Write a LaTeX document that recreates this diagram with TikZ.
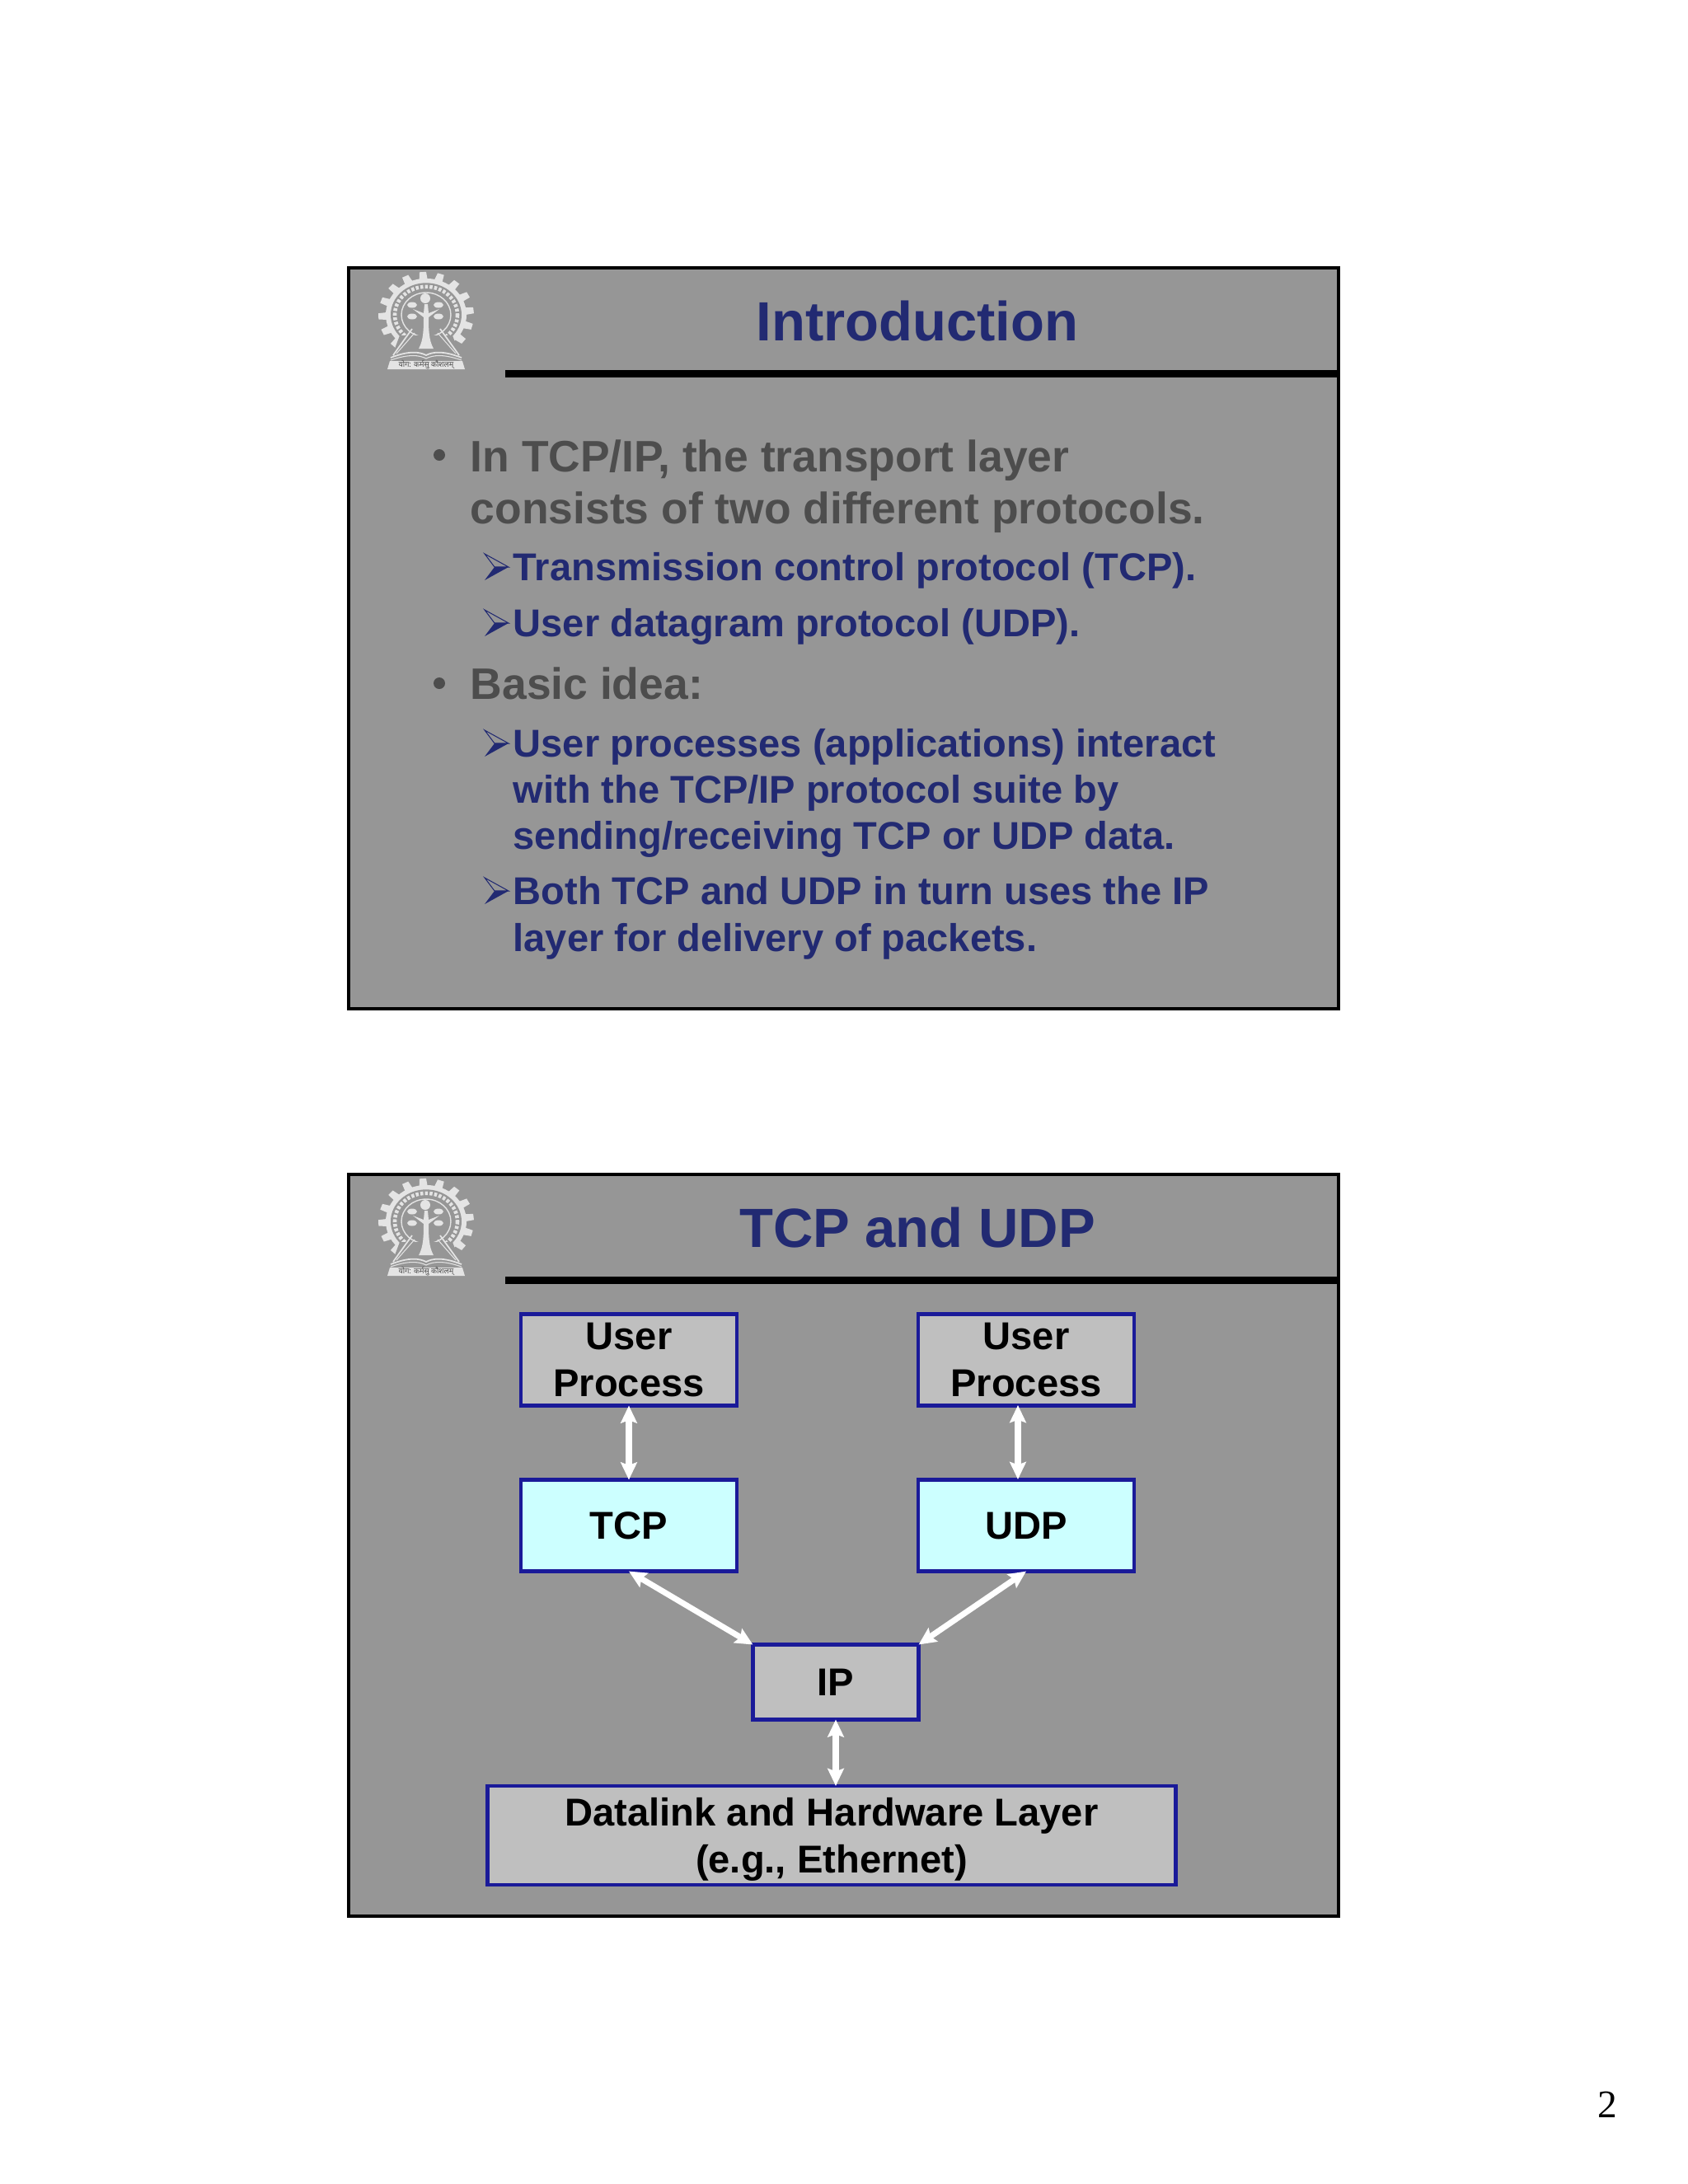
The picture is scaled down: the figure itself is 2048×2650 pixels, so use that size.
\documentclass[tikz,border=0pt]{standalone}
\usepackage{fontspec}
\setmainfont{Liberation Sans}
\newfontfamily\pagefont{Liberation Serif}
\newfontfamily\hindifont[Script=Devanagari]{Noto Sans}
\usetikzlibrary{arrows.meta}
\definecolor{slidegray}{HTML}{969696}
\definecolor{titleblue}{HTML}{222A72}
\definecolor{bodygray}{HTML}{4D4D4D}
\definecolor{boxblue}{HTML}{1A1A99}
\definecolor{boxgray}{HTML}{BFBFBF}
\definecolor{boxcyan}{HTML}{CCFFFF}
\definecolor{logowhite}{HTML}{E4E4E4}
\tikzset{
  slideframe/.style={draw=black,line width=0.9pt,fill=slidegray},
  titletext/.style={anchor=base,inner sep=0pt,text=titleblue,font=\fontsize{19.05}{22}\selectfont\bfseries},
  maintext/.style={anchor=base west,inner sep=0pt,text=bodygray,font=\fontsize{15.2}{18}\selectfont\bfseries},
  subtext/.style={anchor=base west,inner sep=0pt,text=titleblue,font=\fontsize{13.38}{16}\selectfont\bfseries},
  layerbox/.style={draw=boxblue,line width=1.3pt,fill=boxgray,outer sep=0pt,align=center,inner sep=0pt,
    font=\fontsize{13.4}{16}\selectfont\bfseries},
  transportbox/.style={layerbox,fill=boxcyan},
  linkarrow/.style={white,line width=2pt,{Stealth[length=6pt,width=5.6pt,inset=1pt]}-{Stealth[length=6pt,width=5.6pt,inset=1pt]},shorten <=0pt,shorten >=0pt},
  subarrow/.pic={
    \draw[titleblue,line width=0.3pt] (0,-32) -- (29,-16) -- (12,-16) -- cycle;
    \fill[titleblue] (0,0) -- (29,-16) -- (12,-16) -- cycle;
  },
  gearlogo/.pic={
    \begin{scope}[shift={(0,5)},yscale=0.9]
    \foreach \a in {134,156,...,398}
      \fill[logowhite] (\a-7:44) -- (\a-4:58) -- (\a+4:58) -- (\a+7:44) -- cycle;
    \fill[logowhite] (0,0) circle (49);
    \fill[slidegray] (0,0) circle (43);
    \draw[logowhite,line width=1.3pt,dash pattern=on 1pt off 0.6pt] (0,0) circle (38);
    \fill[slidegray] (0,0) circle (30);
    \draw[logowhite,line width=0.4pt] (0,0) circle (30);
    \end{scope}
    \fill[slidegray] (-32,30) -- (32,30) -- (44,62) -- (-44,62) -- cycle;
    % open book
    \draw[logowhite,line width=0.5pt] (-40,54) -- (-17,22) (40,54) -- (17,22)
      (-43,57) .. controls (-20,48) and (-8,50) .. (0,54) .. controls (8,50) and (20,48) .. (43,57);
    \draw[logowhite,line width=0.3pt] (-36,52) -- (-14,27) (36,52) -- (14,27)
      (-43,60) .. controls (-20,52) and (-8,54) .. (0,58) .. controls (8,54) and (20,52) .. (43,60);
    % tree
    \fill[logowhite] (-9,46) .. controls (-3,36) and (-3,20) .. (-3,8) -- (-16,-2) -- (-3,3) -- (-2,-8)
      -- (2,-8) -- (3,3) -- (16,-2) -- (3,8) .. controls (3,20) and (3,36) .. (9,46) -- cycle;
    \fill[logowhite] (-1,-15) ellipse (6 and 6);
    \fill[logowhite] (-17,-7) ellipse (6 and 3.5);
    \fill[logowhite] (15,-7) ellipse (6 and 3.5);
    \fill[logowhite] (-17,7) ellipse (6 and 3.5);
    \fill[logowhite] (15,7) ellipse (6 and 3.5);
    % motto band
    \fill[logowhite] (-44,61) -- (44,61) -- (47,71) -- (-47,71) -- cycle;
    \node[text=bodygray,font=\hindifont\fontsize{2.6}{3}\selectfont,inner sep=0pt] (motto) at (0,66) {योग: कर्मसु कौशलम्};
  },
}
\begin{document}
\begin{tikzpicture}[x=0.01cm,y=-0.01cm]
    \useasboundingbox[fill=white] (0,0) rectangle (2048,2650);
    % upper slide
    \draw[slideframe] (423,325) rectangle (1624,1224);
    \pic at (517,377) {gearlogo};
    \fill[black] (613,449) rectangle (1624,458);
    \node[titletext] (titleintro) at (1113,413) {Introduction};
    \fill[bodygray] (533,552) circle (7);
    \node[maintext] (lineone) at (570,572) {In TCP/IP, the transport layer};
    \node[maintext] (linetwo) at (570,635) {consists of two different protocols.};
    \pic at (588,704) {subarrow};
    \node[subtext] (tcpline) at (622,704) {Transmission control protocol (TCP).};
    \pic at (588,772) {subarrow};
    \node[subtext] (udpline) at (622,772) {User datagram protocol (UDP).};
    \fill[bodygray] (533,829) circle (7);
    \node[maintext] (idealine) at (570,848) {Basic idea:};
    \pic at (588,918) {subarrow};
    \node[subtext] (userline) at (622,918) {User processes (applications) interact};
    \node[subtext] (withline) at (622,974) {with the TCP/IP protocol suite by};
    \node[subtext] (sendline) at (622,1030) {sending/receiving TCP or UDP data.};
    \pic at (588,1097) {subarrow};
    \node[subtext] (bothline) at (622,1097) {Both TCP and UDP in turn uses the IP};
    \node[subtext] (layerline) at (622,1154) {layer for delivery of packets.};
    % lower slide
    \draw[slideframe] (423,1425) rectangle (1624,2325);
    \pic at (517,1477) {gearlogo};
    \fill[black] (613,1549) rectangle (1624,1558);
    \node[titletext] (titletcp) at (1113,1513) {TCP and UDP};
    \node[layerbox,minimum width=2.62cm,minimum height=1.11cm] (userleft) at (763,1650) {User\\Process};
    \node[layerbox,minimum width=2.62cm,minimum height=1.11cm] (userright) at (1245,1650) {User\\Process};
    \node[transportbox,minimum width=2.62cm,minimum height=1.11cm] (tcp) at (763,1851) {TCP};
    \node[transportbox,minimum width=2.62cm,minimum height=1.11cm] (udp) at (1245,1851) {UDP};
    \node[layerbox,minimum width=2.01cm,minimum height=0.91cm] (ip) at (1014,2041) {IP};
    \node[layerbox,minimum width=8.34cm,minimum height=1.2cm,text depth=0pt] (datalink) at (1009,2227) {Datalink and Hardware Layer\\(e.g., Ethernet)};
    \coordinate (rightup) at (1235,1705);
    \coordinate (rightdown) at (1235,1795);
    \draw[linkarrow] (userleft.south) -- (tcp.north);
    \draw[linkarrow] (rightup) -- (rightdown);
    \draw[linkarrow] (tcp.south) -- (ip.north west);
    \draw[linkarrow] (udp.south) -- (ip.north east);
    \draw[linkarrow] (ip.south) -- (ip.south |- datalink.north);
    % page number
    \node[font=\pagefont\fontsize{13.5}{16}\selectfont,inner sep=0pt] (pagenumber) at (1950,2554) {2};
\end{tikzpicture}
\end{document}
